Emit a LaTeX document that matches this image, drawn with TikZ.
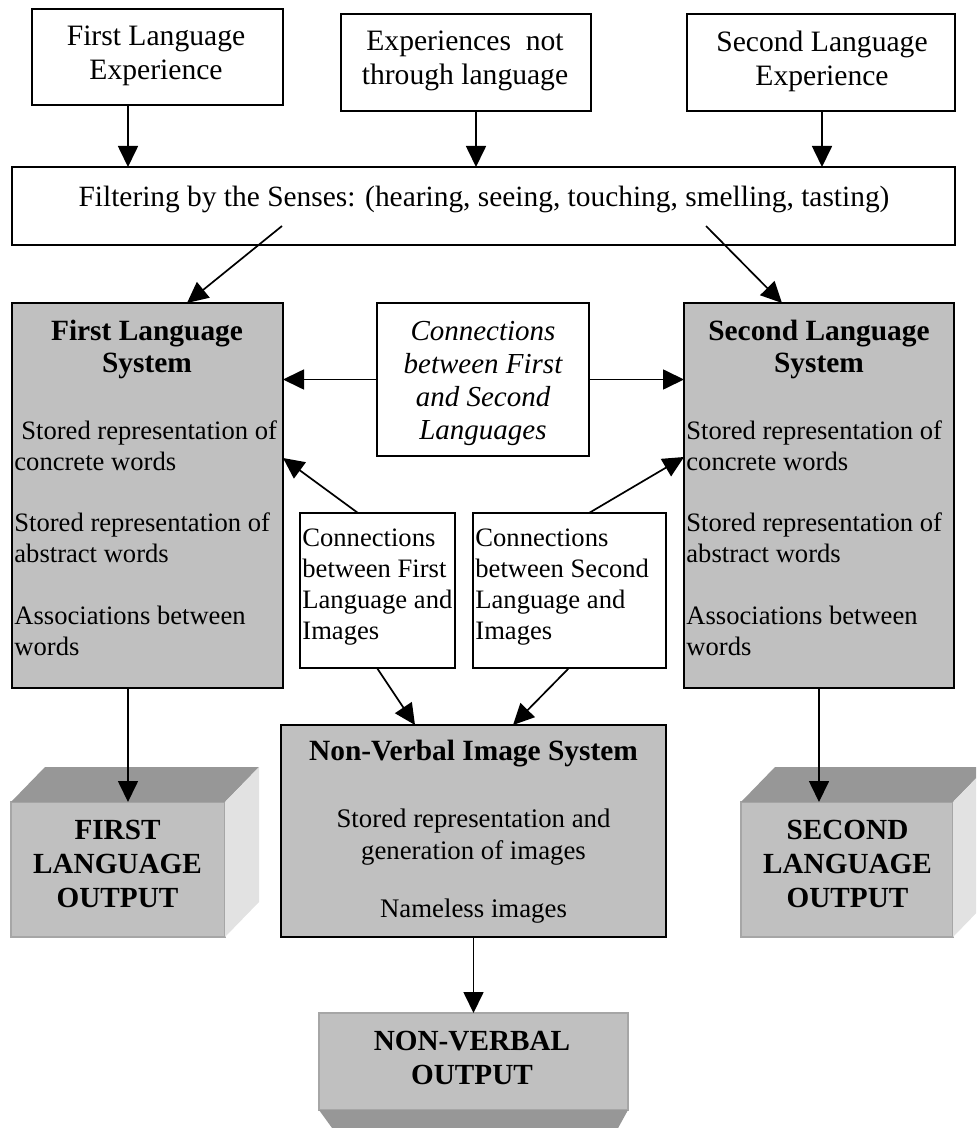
\documentclass[tikz,border=0pt]{standalone}
\usepackage{fontspec}
\setmainfont{Liberation Serif}
\usetikzlibrary{arrows.meta,calc}
\definecolor{boxgray}{HTML}{C0C0C0}
\definecolor{topgray}{HTML}{979797}
\definecolor{sidegray}{HTML}{E2E2E2}
\definecolor{edgegray}{HTML}{A6A6A6}
\begin{document}
\begin{tikzpicture}[x=0.5pt,y=-0.5pt,
  plainbox/.style={draw,line width=1pt,fill=white,inner sep=0pt,outer sep=0pt},
  graybox/.style={plainbox,fill=boxgray},
  frontbox/.style={fill=boxgray,draw=edgegray,line width=0.6pt,inner sep=0pt,outer sep=0pt},
  arr/.style={line width=0.85pt,-{Triangle[length=10.5pt,width=10pt]}},
  toptxt/.style={inner sep=0pt,align=center,font=\fontsize{14.8}{17}\selectfont},
  filtertxt/.style={inner sep=0pt,align=center,font=\fontsize{14.7}{16}\selectfont},
  titletxt/.style={inner sep=0pt,align=center,font=\fontsize{14.7}{16}\selectfont\bfseries},
  bodytxt/.style={inner sep=0pt,align=left,anchor=west,font=\fontsize{13.3}{15.5}\selectfont},
  ctrtxt/.style={inner sep=0pt,align=center,font=\fontsize{13.4}{16}\selectfont},
  itxt/.style={inner sep=0pt,align=center,font=\fontsize{14.5}{16.5}\selectfont\itshape},
  outtxt/.style={inner sep=0pt,align=center,font=\fontsize{14.6}{17}\selectfont\bfseries},
]
\useasboundingbox (0,0) rectangle (976,1128);
\clip (0,0) rectangle (976,1128);

% top boxes
\node[plainbox,minimum width=125.5pt,minimum height=48pt] (b1) at (157.5,57) {};
\node[plainbox,minimum width=125pt,minimum height=48.5pt] (b2) at (466,62.5) {};
\node[plainbox,minimum width=134pt,minimum height=48.5pt] (b3) at (821,62.5) {};
\node[toptxt] (t1) at (156,56) {First Language\\Experience};
\node[toptxt] (t2) at (465,61) {Experiences~~not\\through language};
\node[toptxt] (t3) at (822,61) {Second Language\\Experience};

% filter
\node[plainbox,minimum width=471.5pt,minimum height=39pt] (filter) at (483.5,206) {};
\node[filtertxt] (tf) at (484,199) {Filtering by the Senses: (hearing, seeing, touching, smelling, tasting)};

% language systems
\node[graybox,minimum width=135.5pt,minimum height=192.5pt] (L) at (147.5,495.5) {};
\node[graybox,minimum width=135pt,minimum height=192.5pt] (R) at (819,495.5) {};
\node[titletxt] (Lt) at (147,349) {First Language\\System};
\node[titletxt] (Rt) at (819,349) {Second Language\\System};
\node[bodytxt] (L1) at (14,446) {\hspace*{3.5pt}Stored representation of\\concrete words};
\node[bodytxt] (L2) at (14,538) {Stored representation of\\abstract words};
\node[bodytxt] (L3) at (14,630.5) {Associations between\\words};
\node[bodytxt] (R1) at (686,446) {Stored representation of\\concrete words};
\node[bodytxt] (R2) at (686,538) {Stored representation of\\abstract words};
\node[bodytxt] (R3) at (686,630.5) {Associations between\\words};

% connections boxes
\node[plainbox,minimum width=106pt,minimum height=76.5pt] (C) at (483,379.5) {};
\node[itxt] (Ct) at (483,383) {Connections\\between First\\and Second\\Languages};
\node[plainbox,minimum width=77.5pt,minimum height=77.5pt] (A) at (377.5,590.5) {};
\node[plainbox,minimum width=96.5pt,minimum height=77.5pt] (B) at (569.5,590.5) {};
\node[bodytxt] (At) at (302,587) {Connections\\between First\\Language and\\Images};
\node[bodytxt] (Bt) at (475,587) {Connections\\between Second\\Language and\\Images};

% non-verbal system
\node[graybox,minimum width=192.5pt,minimum height=106pt] (NV) at (473.5,831) {};
\node[titletxt] (NVt) at (473.5,754) {Non-Verbal Image System};
\node[ctrtxt] (NV1) at (473.5,837) {Stored representation and\\generation of images};
\node[ctrtxt] (NV2) at (473.5,911) {Nameless images};

% 3D output boxes
\node[frontbox,minimum width=107pt,minimum height=67.5pt] (FLO) at (118,869.5) {};
\fill[topgray] (FLO.north west) -- (FLO.north east) -- ++(34,-35) -- ($(FLO.north west)+(34,-35)$) -- cycle;
\fill[sidegray] (FLO.north east) -- ++(34,-35) -- ($(FLO.south east)+(34,-35)$) -- (FLO.south east) -- cycle;
\node[outtxt] (FLOt) at (117.5,864) {FIRST\\LANGUAGE\\OUTPUT};

\node[frontbox,minimum width=106pt,minimum height=67.5pt] (SLO) at (847,869.5) {};
\fill[topgray] (SLO.north west) -- (SLO.north east) -- ++(34,-35) -- ($(SLO.north west)+(34,-35)$) -- cycle;
\fill[sidegray] (SLO.north east) -- ++(34,-35) -- ($(SLO.south east)+(34,-35)$) -- (SLO.south east) -- cycle;
\node[outtxt] (SLOt) at (847.5,864) {SECOND\\LANGUAGE\\OUTPUT};

\node[frontbox,minimum width=154.5pt,minimum height=48.5pt] (NVO) at (473.5,1061.5) {};
\fill[topgray] (NVO.south west) -- (NVO.south east) -- ++(-22,40) -- ($(NVO.south west)+(29,40)$) -- cycle;
\node[outtxt] (NVOt) at (472,1058) {NON-VERBAL\\OUTPUT};

% named coordinates for connector ends
\coordinate (xa) at (128,0);
\coordinate (xb) at (476,0);
\coordinate (xc) at (822,0);
\coordinate (d1s) at (282,226);
\coordinate (d1e) at (187,0);
\coordinate (d2s) at (706,226);
\coordinate (d2e) at (782,0);
\coordinate (xA) at (358,0);
\coordinate (yL) at (0,458);
\coordinate (xB) at (589,0);
\coordinate (yR) at (0,457);
\coordinate (xA2) at (377,0);
\coordinate (xN1) at (415,0);
\coordinate (xB2) at (569,0);
\coordinate (xN2) at (513,0);
\coordinate (xR) at (819,0);

% connectors
\draw[arr] (b1.south -| xa) -- (filter.north -| xa);
\draw[arr] (b2.south -| xb) -- (filter.north -| xb);
\draw[arr] (b3.south -| xc) -- (filter.north -| xc);
\draw[arr] (d1s) -- (L.north -| d1e);
\draw[arr] (d2s) -- (R.north -| d2e);
\draw[arr] (C.west) -- (C.west -| L.east);
\draw[arr] (C.east) -- (C.east -| R.west);
\draw[arr] (A.north -| xA) -- (L.east |- yL);
\draw[arr] (B.north -| xB) -- (R.west |- yR);
\draw[arr] (A.south -| xA2) -- (NV.north -| xN1);
\draw[arr] (B.south -| xB2) -- (NV.north -| xN2);
\draw[arr] (L.south -| xa) -- (FLO.north -| xa);
\draw[arr] (R.south -| xR) -- (SLO.north -| xR);
\draw[arr] (NV.south) -- (NVO.north);
\end{tikzpicture}
\end{document}
